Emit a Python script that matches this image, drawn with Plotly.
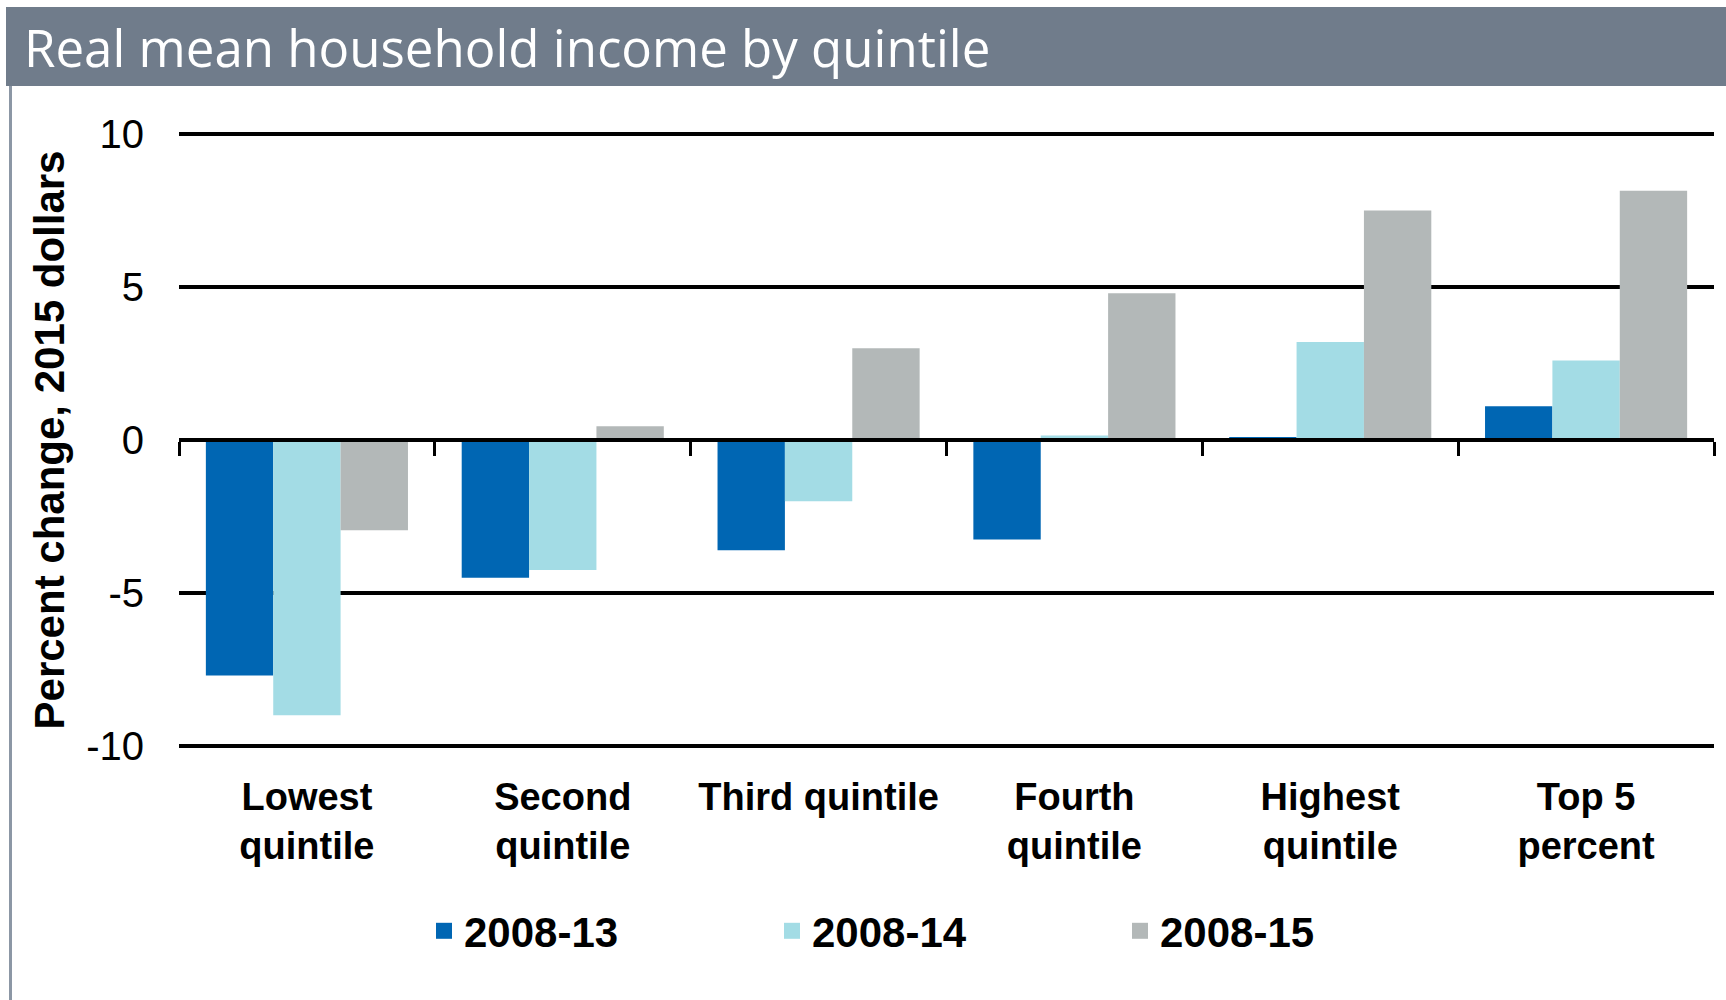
import plotly.graph_objects as go

# ---------------- data ----------------
categories = ["Lowest<br>quintile", "Second<br>quintile", "Third quintile",
              "Fourth<br>quintile", "Highest<br>quintile", "Top 5<br>percent"]
series_names = ["2008-13", "2008-14", "2008-15"]
values_2008_13 = [-7.7, -4.5, -3.6, -3.25, 0.1, 1.1]
values_2008_14 = [-9.0, -4.25, -2.0, 0.15, 3.2, 2.6]
values_2008_15 = [-2.95, 0.45, 3.0, 4.8, 7.5, 8.15]
y_tickvals = [-10, -5, 0, 5, 10]
y_ticktext = ["-10", "-5", "0", "5", "10"]
title_text = "Real mean household income by quintile"
y_title = "Percent change, 2015 dollars"

# ---------------- styling ----------------
colors = ["#0066b3", "#a3dce5", "#b3b8b8"]
W, H = 1726, 1000
L, R, T, B = 179, 12, 131, 251
PW, PH = W - L - R, H - T - B
YMIN, YMAX = -10.1, 10.1


def px_x(px):
    return (px - L) / PW


def px_y(py):
    return (H - B - py) / PH


fig = go.Figure()
all_values = [values_2008_13, values_2008_14, values_2008_15]
for name, vals, col in zip(series_names, all_values, colors):
    fig.add_trace(go.Bar(x=categories, y=vals, name=name, marker_color=col,
                         marker_line_width=0, showlegend=False, hoverinfo="x+y"))
    # legend entry with a larger square swatch
    fig.add_trace(go.Scatter(x=[None], y=[None], mode="markers", name=name,
                             marker=dict(symbol="square", size=22, color=col),
                             showlegend=True, hoverinfo="skip"))

# helper trace that carries the category boundary ticks on the zero line
fig.add_trace(go.Scatter(x=categories, y=[0] * len(categories), xaxis="x2",
                         mode="markers", marker=dict(opacity=0), showlegend=False,
                         hoverinfo="skip"))

fig.update_layout(
    width=W, height=H,
    margin=dict(l=L, r=R, t=T, b=B),
    paper_bgcolor="white", plot_bgcolor="white",
    barmode="group", bargap=0.21, bargroupgap=0,
    font=dict(family="Liberation Sans, Arial, sans-serif", color="black", size=38),
    title=dict(text=title_text, x=24 / W, xanchor="left", xref="container",
               y=1 - 49.5 / H, yanchor="middle", yref="container",
               font=dict(family="Open Sans, sans-serif", size=51,
                         color="white")),
    xaxis=dict(type="category", categoryorder="array", categoryarray=categories,
               range=[-0.5, len(categories) - 0.5], showline=False, ticks="",
               showgrid=False, tickfont=dict(size=38, weight="bold"),
               ticklabelstandoff=22),
    xaxis2=dict(type="category", categoryorder="array", categoryarray=categories,
                range=[-0.5, len(categories) - 0.5], overlaying="x", anchor="free",
                position=(0 - YMIN) / (YMAX - YMIN), side="bottom",
                showline=True, linecolor="black", linewidth=3.5,
                ticks="outside", tickson="boundaries", ticklen=14, tickwidth=3,
                tickcolor="black", showticklabels=False, showgrid=False),
    yaxis=dict(range=[YMIN, YMAX], tickvals=y_tickvals, ticktext=y_ticktext,
               showgrid=True, gridcolor="black", gridwidth=4, zeroline=False,
               showline=False, ticks="", ticklabelstandoff=34,
               tickfont=dict(size=40),
               title=dict(text=y_title, standoff=8,
                          font=dict(size=42, weight="bold"))),
    legend=dict(orientation="h", x=px_x(946), xanchor="center", y=px_y(931),
                yanchor="middle", font=dict(size=42, weight="bold"),
                entrywidth=303, itemclick=False, itemdoubleclick=False),
    shapes=[
        dict(type="rect", xref="paper", yref="paper", x0=px_x(6), x1=px_x(W),
             y0=px_y(86), y1=px_y(7), fillcolor="#707c8b", line_width=0,
             layer="below"),
        dict(type="line", xref="paper", yref="paper", x0=px_x(10.5), x1=px_x(10.5),
             y0=px_y(86), y1=px_y(H), line=dict(color="#8c97a5", width=3)),
    ],
)

fig.write_html("out.html", config={"displayModeBar": False},
               post_script="document.body.style.margin='0px';")
